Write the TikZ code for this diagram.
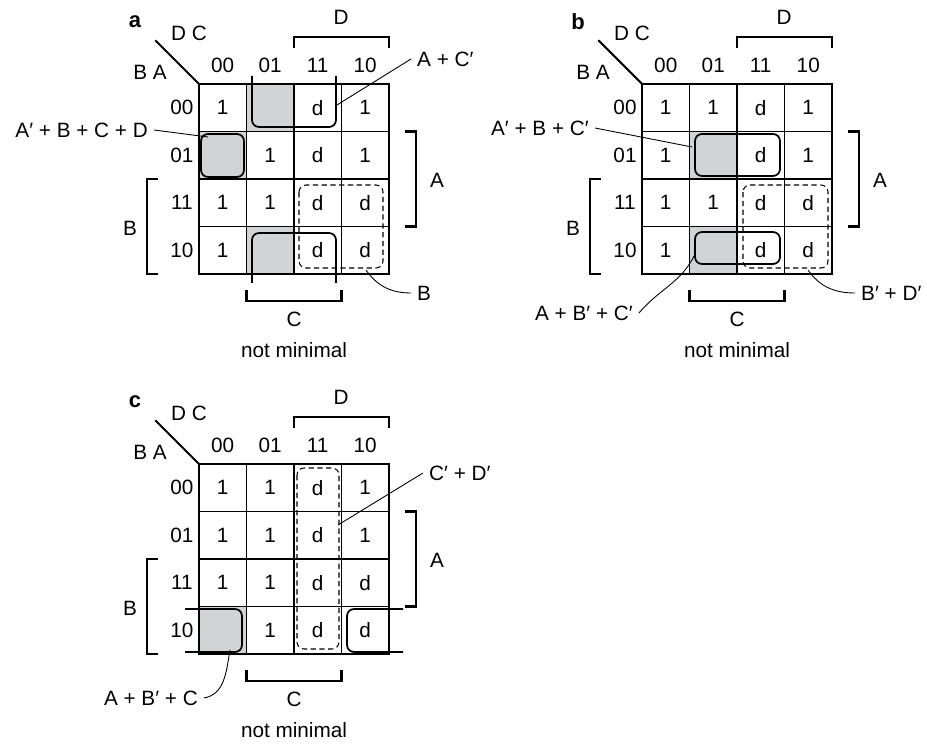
\documentclass[tikz,border=0pt]{standalone}
\usepackage{fontspec}
\setmainfont{Liberation Sans}
\usepackage{xcolor}
\usetikzlibrary{positioning}

\definecolor{cellgrey}{RGB}{209,211,212}

% common frame of one map: grid, headings, brackets
\newcommand{\kframe}[1]{%
  \foreach \k in {0,...,4} {
    \draw[gridline] (47.5*\k,0) -- (47.5*\k,190);
    \draw[gridline] (0,47.5*\k) -- (190,47.5*\k);
  }
  \draw[gridline, line width=1.2pt] (-43,-43) -- (0,0);
  \node[tag] (#1-tag) at (-64,-62) {#1};
  \node (#1-dc) at (-10,-51) {D C};
  \node (#1-ba) at (-49,-12) {B A};
  \foreach \v [count=\i from 0] in {00,01,11,10} {
    \node (#1-col\i) at (23.75+47.5*\i,-19) {\v};
    \node (#1-row\i) at (-17,23.75+47.5*\i) {\v};
  }
  \draw[bracket] (95,-36) -- (95,-47) -- (190,-47) -- (190,-36);
  \node (#1-D) at (142,-67) {D};
  \draw[bracket] (206,47.5) -- (217,47.5) -- (217,142.5) -- (206,142.5);
  \node (#1-A) at (238,96) {A};
  \draw[bracket] (-41,95) -- (-52,95) -- (-52,190) -- (-41,190);
  \node (#1-B) at (-69,144) {B};
  \draw[bracket] (47.5,206) -- (47.5,217) -- (142.5,217) -- (142.5,206);
  \node (#1-C) at (95,235) {C};
  \node (#1-note) at (95,266) {not minimal};
}

\begin{document}
\begin{tikzpicture}[
        x=0.02cm, y=-0.02cm,
        font=\fontsize{11.8}{14}\selectfont,
        tag/.style={font=\fontsize{12.5}{14}\selectfont\bfseries},
        cell/.style={inner sep=0pt},
        gridline/.style={line width=0.8pt, line cap=rect},
        bracket/.style={line width=1.3pt},
        implic/.style={line width=1pt, rounded corners=4pt},
        dcare/.style={line width=0.6pt, dash pattern=on 3pt off 2pt, rounded corners=4pt},
        leader/.style={line width=0.5pt}
    ]
    \useasboundingbox (0,0) rectangle (927,746);

    % map a
    \begin{scope}[shift={(199,84)}]
        \fill[cellgrey] (47.5,0) rectangle (95,47.5);
        \fill[cellgrey] (0,47.5) rectangle (47.5,95);
        \fill[cellgrey] (47.5,142.5) rectangle (95,190);
        \kframe{a}
        \foreach \r/\c/\v in {0/0/1,0/2/d,0/3/1,1/1/1,1/2/d,1/3/1,2/0/1,2/1/1,2/2/d,2/3/d,3/0/1,3/2/d,3/3/d}
            \node[cell] (a-\r\c) at (23.75+47.5*\c,23.75+47.5*\r) {\v};
        \draw[implic] (53,-8) -- (53,43) -- (137,43) -- (137,-8);
        \draw[implic] (53,199) -- (53,149) -- (137,149) -- (137,199);
        \draw[implic] (2,50) rectangle (45,93);
        \draw[dcare] (100,101) rectangle (184,184);
        \node[anchor=west] (a-lAC) at (212,-25) {A + C′};
        \coordinate (a-pAC) at (138,21);
        \draw[leader] (a-pAC) -- (a-lAC.west);
        \node[anchor=east] (a-lABCD) at (-45,46) {A′ + B + C + D};
        \coordinate (a-pABCD) at (9,53);
        \draw[leader] (a-lABCD.east) -- (a-pABCD);
        \node[anchor=west] (a-lB) at (212,209) {B};
        \coordinate (a-pB) at (167,186);
        \draw[leader] (a-pB) to[out=-55, in=180] (a-lB.west);
    \end{scope}

    % map b
    \begin{scope}[shift={(642,84)}]
        \fill[cellgrey] (47.5,47.5) rectangle (95,95);
        \fill[cellgrey] (47.5,142.5) rectangle (95,190);
        \kframe{b}
        \foreach \r/\c/\v in {0/0/1,0/1/1,0/2/d,0/3/1,1/0/1,1/2/d,1/3/1,2/0/1,2/1/1,2/2/d,2/3/d,3/0/1,3/2/d,3/3/d}
            \node[cell] (b-\r\c) at (23.75+47.5*\c,23.75+47.5*\r) {\v};
        \draw[implic] (53,50) rectangle (138,92);
        \draw[implic] (53,148) rectangle (138,180);
        \draw[dcare] (101,101) rectangle (186,184);
        \node[anchor=east] (b-lABC) at (-47,44) {A′ + B + C′};
        \coordinate (b-pABC) at (50,63);
        \draw[leader] (b-lABC.east) -- (b-pABC);
        \node[anchor=east] (b-lAB) at (-3,229) {A + B′ + C′};
        \coordinate (b-pAB) at (53,170);
        \draw[leader] (b-lAB.east) to[out=50, in=-115] (b-pAB);
        \node[anchor=west] (b-lBD) at (213,209) {B′ + D′};
        \coordinate (b-pBD) at (166,186);
        \draw[leader] (b-pBD) to[out=-55, in=180] (b-lBD.west);
    \end{scope}

    % map c
    \begin{scope}[shift={(199,464)}]
        \fill[cellgrey] (0,142.5) rectangle (47.5,190);
        \kframe{c}
        \foreach \r/\c/\v in {0/0/1,0/1/1,0/2/d,0/3/1,1/0/1,1/1/1,1/2/d,1/3/1,2/0/1,2/1/1,2/2/d,2/3/d,3/1/1,3/2/d,3/3/d}
            \node[cell] (c-\r\c) at (23.75+47.5*\c,23.75+47.5*\r) {\v};
        \draw[dcare] (98,4) rectangle (140,185);
        \draw[implic] (-14,145) -- (43,145) -- (43,188) -- (-14,188);
        \draw[implic] (204,145) -- (148,145) -- (148,188) -- (204,188);
        \node[anchor=west] (c-lCD) at (224,9) {C′ + D′};
        \coordinate (c-pCD) at (139,61);
        \draw[leader] (c-pCD) -- (c-lCD.west);
        \node[anchor=east] (c-lABC) at (5,234) {A + B′ + C};
        \coordinate (c-pABC) at (31,186);
        \draw[leader] (c-lABC.east) to[out=10, in=-100] (c-pABC);
    \end{scope}
\end{tikzpicture}
\end{document}
